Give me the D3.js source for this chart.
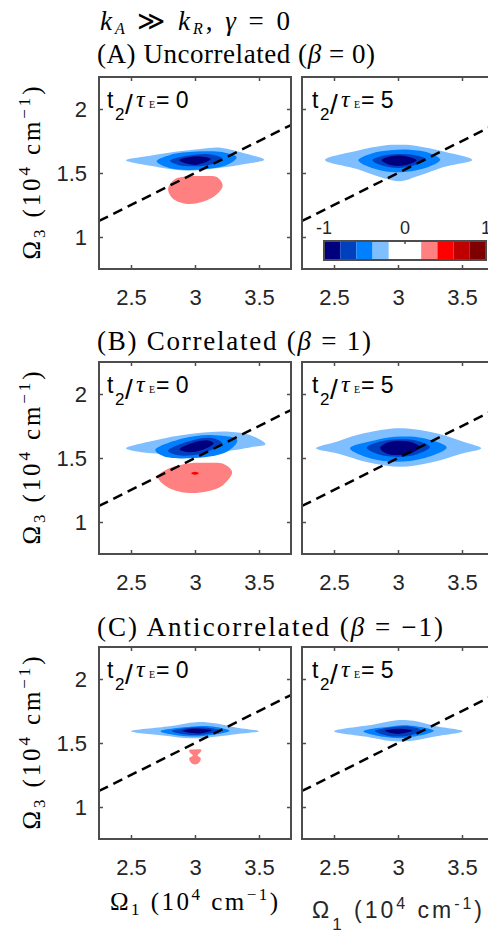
<!DOCTYPE html>
<html>
<head>
<meta charset="utf-8">
<script src="https://cdn.jsdelivr.net/npm/d3@7"></script>
<style>
	body { margin: 0; background: #fff; }
	svg { display: block; }
	text { white-space: pre; }
</style>
</head>
<body>
<div id="vis"></div>
<script>

// axes (10^4 cm^-1)
var omega1Domain = [2.25, 3.75];
var omega3Domain = [0.75, 2.25];
var omega1Ticks = [2.5, 3, 3.5];
var omega3Ticks = [1, 1.5, 2];

// contour levels, same steps as the colorbar
var levelEdges = [-0.8, -0.6, -0.4, -0.2, 0, 0.2, 0.4, 0.6, 0.8];
var levelColors = ["#00007f", "#0040bf", "#0080ff", "#80bfff", "#ffffff", "#ffffff", "#ff8080", "#ff0000", "#bf0000", "#7f0000"];
var cbarBands = [-1, -0.8, -0.6, -0.4, -0.2, 0, 0.2, 0.4, 0.6, 0.8];
var cbarTicks = [-1, 0, 1];

// dashed guide Omega3 = Omega1 / 2
var diagOmega1 = [2.25, 3.75];
var diagOmega3 = [1.125, 1.875];

var rowLabels = ["(A) Uncorrelated", "(B) Correlated", "(C) Anticorrelated"];
var rowBeta = ["0", "1", "\u22121"];
var delays = ["0", "5"];

// filled contour regions: band value v, outline points [Omega1, Omega3]
var uncorrT0 = [
	{v: -0.3, pts: [[2.46,1.60],[2.65,1.635],[2.86,1.667],[3.04,1.688],[3.20,1.698],[3.40,1.65],[3.54,1.604],[3.40,1.572],[3.17,1.537],[2.94,1.518],[2.80,1.531],[2.65,1.557],[2.52,1.58]]},
	{v: -0.5, pts: [[2.70,1.591],[2.805,1.641],[3.01,1.667],[3.22,1.662],[3.326,1.623],[3.25,1.563],[3.01,1.526],[2.805,1.537]]},
	{v: -0.7, pts: [[2.805,1.596],[2.99,1.643],[3.14,1.643],[3.21,1.615],[3.14,1.570],[2.99,1.552],[2.87,1.563]]},
	{v: -0.9, pts: [[2.877,1.599],[3.0,1.63],[3.123,1.609],[3.0,1.563]]},
	{v: 0.3, pts: [[2.84,1.45],[2.96,1.474],[3.07,1.476],[3.17,1.468],[3.216,1.40],[3.14,1.31],[2.96,1.258],[2.83,1.297],[2.79,1.375]]}
];
var uncorrT5 = [
	{v: -0.3, pts: [[2.43,1.602],[2.68,1.674],[2.89,1.715],[3.0,1.72],[3.12,1.715],[3.38,1.662],[3.58,1.602],[3.38,1.552],[3.15,1.474],[3.02,1.435],[2.89,1.459],[2.68,1.531]]},
	{v: -0.5, pts: [[2.69,1.60],[2.80,1.655],[2.94,1.678],[3.09,1.682],[3.25,1.655],[3.33,1.604],[3.2,1.535],[2.99,1.505],[2.81,1.535]]},
	{v: -0.7, pts: [[2.80,1.60],[2.88,1.635],[3.0,1.648],[3.13,1.64],[3.22,1.605],[3.13,1.56],[3.0,1.54],[2.87,1.56]]},
	{v: -0.9, pts: [[2.873,1.60],[2.95,1.632],[3.05,1.633],[3.146,1.60],[3.05,1.56],[2.95,1.56]]}
];
var corrT0 = [
	{v: -0.3, pts: [[2.46,1.576],[2.70,1.641],[2.96,1.688],[3.27,1.706],[3.43,1.68],[3.55,1.607],[3.43,1.583],[3.27,1.557],[3.04,1.531],[2.80,1.531],[2.62,1.541],[2.49,1.562]]},
	{v: -0.5, pts: [[2.69,1.562],[2.91,1.654],[3.12,1.68],[3.33,1.641],[3.25,1.549],[2.96,1.498],[2.75,1.516]]},
	{v: -0.7, pts: [[2.79,1.557],[2.99,1.641],[3.14,1.654],[3.21,1.615],[3.04,1.531],[2.86,1.523]]},
	{v: -0.9, pts: [[2.88,1.568],[3.0,1.625],[3.1,1.638],[3.145,1.615],[3.05,1.56],[2.95,1.545]]},
	{v: 0.3, pts: [[2.80,1.419],[2.96,1.459],[3.09,1.462],[3.22,1.455],[3.29,1.39],[3.22,1.29],[3.10,1.24],[2.93,1.229],[2.78,1.276],[2.71,1.354]]},
	{v: 0.5, pts: [[2.97,1.38],[3.0,1.392],[3.03,1.38],[3.0,1.368]]}
];
var corrT5 = [
	{v: -0.3, pts: [[2.36,1.576],[2.52,1.627],[2.68,1.68],[2.94,1.729],[3.09,1.729],[3.30,1.693],[3.51,1.627],[3.65,1.576],[3.51,1.537],[3.25,1.463],[3.02,1.432],[2.78,1.463],[2.52,1.537]]},
	{v: -0.5, pts: [[2.625,1.576],[2.83,1.641],[3.02,1.667],[3.20,1.654],[3.38,1.583],[3.20,1.498],[2.99,1.471],[2.78,1.498]]},
	{v: -0.7, pts: [[2.755,1.58],[2.87,1.63],[3.0,1.646],[3.15,1.635],[3.25,1.585],[3.15,1.53],[3.0,1.51],[2.86,1.525]]},
	{v: -0.9, pts: [[2.86,1.58],[2.93,1.625],[3.02,1.635],[3.12,1.62],[3.17,1.585],[3.1,1.535],[3.0,1.523],[2.9,1.54]]}
];
var antiT0 = [
	{v: -0.3, pts: [[2.50,1.592],[2.80,1.631],[3.01,1.663],[3.17,1.652],[3.33,1.619],[3.50,1.592],[3.30,1.566],[3.09,1.541],[2.96,1.537],[2.75,1.559]]},
	{v: -0.5, pts: [[2.73,1.592],[2.96,1.627],[3.12,1.631],[3.27,1.595],[3.07,1.555],[2.88,1.557]]},
	{v: -0.7, pts: [[2.82,1.594],[2.98,1.621],[3.10,1.62],[3.195,1.598],[3.07,1.566],[2.93,1.566]]},
	{v: -0.9, pts: [[2.90,1.595],[3.0,1.613],[3.13,1.598],[3.02,1.574]]},
	{v: 0.3, pts: [[2.955,1.445],[3.0,1.45],[3.05,1.445],[3.04,1.425],[3.02,1.402],[3.045,1.38],[3.03,1.345],[3.0,1.332],[2.97,1.345],[2.955,1.38],[2.983,1.402],[2.96,1.425]]}
];
var antiT5 = [
	{v: -0.3, pts: [[2.50,1.592],[2.81,1.645],[2.99,1.678],[3.12,1.673],[3.30,1.631],[3.505,1.592],[3.30,1.553],[3.09,1.516],[2.94,1.516],[2.755,1.548]]},
	{v: -0.5, pts: [[2.73,1.592],[2.96,1.631],[3.09,1.637],[3.28,1.595],[3.07,1.541],[2.89,1.548]]},
	{v: -0.7, pts: [[2.82,1.594],[2.97,1.625],[3.10,1.627],[3.185,1.598],[3.07,1.555],[2.92,1.557]]},
	{v: -0.9, pts: [[2.90,1.596],[3.0,1.611],[3.11,1.598],[3.0,1.571]]}
];

var spectra = [[uncorrT0, uncorrT5], [corrT0, corrT5], [antiT0, antiT5]];

function drawFigure() {

	var width = 488, height = 930;
	var plotSize = 192;
	var colLeft = [99, 302];
	var rowTop = [77, 362, 647];

	var sansFont = "'Liberation Sans', Arial, Helvetica, sans-serif";
	var serifFont = "'Liberation Serif', 'Times New Roman', 'DejaVu Serif', serif";
	var axisColor = "#4d4d4d";
	var textColor = "#262626";

	var svg = d3.select("#vis").append("svg")
		.attr("width", width)
		.attr("height", height);

	svg.append("rect")
		.attr("width", width)
		.attr("height", height)
		.attr("fill", "#fff");

	var xScale = d3.scaleLinear().domain(omega1Domain).range([0, plotSize]);
	var yScale = d3.scaleLinear().domain(omega3Domain).range([plotSize, 0]);
	var colorScale = d3.scaleThreshold().domain(levelEdges).range(levelColors);

	var contourLine = d3.line()
		.x(function(d) { return xScale(d[0]); })
		.y(function(d) { return yScale(d[1]); })
		.curve(d3.curveCatmullRomClosed.alpha(0.5));

	var guideLine = d3.line()
		.x(function(d) { return xScale(d[0]); })
		.y(function(d) { return yScale(d[1]); });

	svg.append("defs").append("clipPath")
		.attr("id", "plotClip")
		.append("rect")
		.attr("width", plotSize)
		.attr("height", plotSize);

	function richText(parent, x, y, size, family, parts) {
		var t = parent.append("text")
			.attr("x", x)
			.attr("y", y)
			.attr("font-size", size)
			.attr("font-family", family)
			.attr("fill", "#000");
		parts.forEach(function(p) {
			t.append("tspan")
				.attr("font-size", p.fs || null)
				.attr("font-style", p.it ? "italic" : null)
				.attr("dy", p.dy || null)
				.text(p.t);
		});
		return t;
	}

	function styleAxis(a, showText) {
		a.select(".domain").remove();
		a.selectAll(".tick line")
			.attr("stroke", axisColor)
			.attr("stroke-width", 1.5);
		a.selectAll(".tick text")
			.attr("fill", textColor)
			.attr("font-size", 22)
			.attr("font-family", sansFont)
			.style("display", showText ? null : "none");
	}

	// header
	richText(svg, 100, 30, 27, serifFont, [
		{t: "k", it: true}, {t: "A", it: true, fs: 16, dy: 4}, {t: " \u226B ", dy: -4},
		{t: "k", it: true}, {t: "R", it: true, fs: 16, dy: 4}, {t: ", ", dy: -4},
		{t: "\u03B3", it: true}, {t: " = 0"}
	]).attr("textLength", 190).attr("lengthAdjust", "spacing");

	var titleY = [63, 350, 636];
	var titleLen = [278, 274, 346];

	spectra.forEach(function(row, r) {

		richText(svg, 97, titleY[r], 27, serifFont, [
			{t: rowLabels[r] + " ("}, {t: "\u03B2", it: true}, {t: " = " + rowBeta[r] + ")"}
		]).attr("textLength", titleLen[r]).attr("lengthAdjust", "spacing");

		// y label
		richText(svg, 0, 0, 25, serifFont, [
			{t: "\u03A9"}, {t: "3", fs: 17, dy: 5}, {t: " (10", dy: -5},
			{t: "4", fs: 17, dy: -10}, {t: " cm", dy: 10}, {t: "\u22121", fs: 17, dy: -10}, {t: ")", dy: 10}
		])
			.attr("text-anchor", "middle")
			.attr("textLength", 173)
			.attr("lengthAdjust", "spacing")
			.attr("transform", "translate(40," + (rowTop[r] + plotSize / 2) + ") rotate(-90)");

		row.forEach(function(regions, c) {

			var g = svg.append("g")
				.attr("transform", "translate(" + colLeft[c] + "," + rowTop[r] + ")");

			var area = g.append("g").attr("clip-path", "url(#plotClip)");

			area.selectAll("path.level")
				.data(regions)
				.enter()
				.append("path")
				.attr("class", "level")
				.attr("d", function(d) { return contourLine(d.pts); })
				.attr("fill", function(d) { return colorScale(d.v); });

			area.append("path")
				.datum(d3.zip(diagOmega1, diagOmega3))
				.attr("d", guideLine)
				.attr("fill", "none")
				.attr("stroke", "#000")
				.attr("stroke-width", 2.5)
				.attr("stroke-dasharray", "10,6");

			// axes, ticks pointing inside
			var bottom = g.append("g")
				.attr("transform", "translate(0," + plotSize + ")")
				.call(d3.axisBottom(xScale).tickValues(omega1Ticks).tickSize(-4).tickSizeOuter(0).tickPadding(20).tickFormat(d3.format("")));
			styleAxis(bottom, true);

			var top = g.append("g")
				.call(d3.axisTop(xScale).tickValues(omega1Ticks).tickSize(-4).tickSizeOuter(0));
			styleAxis(top, false);

			var left = g.append("g")
				.call(d3.axisLeft(yScale).tickValues(omega3Ticks).tickSize(-4).tickSizeOuter(0).tickPadding(12).tickFormat(d3.format("")));
			styleAxis(left, c == 0);

			var right = g.append("g")
				.attr("transform", "translate(" + plotSize + ",0)")
				.call(d3.axisRight(yScale).tickValues(omega3Ticks).tickSize(-4).tickSizeOuter(0));
			styleAxis(right, false);

			g.append("rect")
				.attr("width", plotSize)
				.attr("height", plotSize)
				.attr("fill", "none")
				.attr("stroke", axisColor)
				.attr("stroke-width", 2);

			// t2/tauE annotation
			var x0 = c == 0 ? 8 : 10;
			var ann = g.append("text")
				.attr("font-family", sansFont)
				.attr("font-size", 23)
				.attr("fill", "#000");
			ann.append("tspan").attr("x", x0).attr("y", 31).text("t");
			ann.append("tspan").attr("x", x0 + 8).attr("y", 43).attr("font-size", 17).text("2");
			ann.append("tspan").attr("x", x0 + 18).attr("y", 37).attr("font-size", 28).text("/");
			ann.append("tspan").attr("x", x0 + 29).attr("y", 30).attr("font-family", serifFont).attr("font-style", "italic").attr("font-size", 24).text("\u03C4");
			ann.append("tspan").attr("x", x0 + 42).attr("y", 31).attr("font-family", serifFont).attr("font-size", 10).text("E");
			ann.append("tspan").attr("x", x0 + 49).attr("y", 31).text("= " + delays[c]);
		});
	});

	// colorbar inside panel A right
	var cbarScale = d3.scaleLinear().domain([-1, 1]).range([324, 486]);
	var cbarY = 241, cbarH = 19;
	var cbar = svg.append("g");

	cbar.selectAll("rect.band")
		.data(cbarBands)
		.enter()
		.append("rect")
		.attr("class", "band")
		.attr("x", function(d) { return cbarScale(d); })
		.attr("y", cbarY)
		.attr("width", function(d) { return cbarScale(d + 0.2) - cbarScale(d); })
		.attr("height", cbarH)
		.attr("fill", function(d) { return colorScale(d + 0.1); });

	cbar.append("rect")
		.attr("x", cbarScale(-1))
		.attr("y", cbarY)
		.attr("width", cbarScale(1) - cbarScale(-1))
		.attr("height", cbarH)
		.attr("fill", "none")
		.attr("stroke", axisColor)
		.attr("stroke-width", 2);

	cbar.selectAll("line.ctick")
		.data(cbarTicks)
		.enter()
		.append("line")
		.attr("class", "ctick")
		.attr("x1", function(d) { return cbarScale(d); })
		.attr("x2", function(d) { return cbarScale(d); })
		.attr("y1", cbarY)
		.attr("y2", cbarY + 3)
		.attr("stroke", axisColor)
		.attr("stroke-width", 1.5);

	cbar.selectAll("text.clabel")
		.data(cbarTicks)
		.enter()
		.append("text")
		.attr("class", "clabel")
		.attr("x", function(d) { return cbarScale(d); })
		.attr("y", 234)
		.attr("text-anchor", "middle")
		.attr("font-family", sansFont)
		.attr("font-size", 18)
		.attr("fill", textColor)
		.text(function(d) { return d < 0 ? "-" + Math.abs(d) : d; });

	// x labels: serif (left), sans (right)
	richText(svg, 110, 910, 25, serifFont, [
		{t: "\u03A9"}, {t: "1", fs: 17, dy: 5}, {t: " (10", dy: -5},
		{t: "4", fs: 17, dy: -10}, {t: " cm", dy: 10}, {t: "\u22121", fs: 17, dy: -10}, {t: ")", dy: 10}
	]).attr("textLength", 168).attr("lengthAdjust", "spacing");

	richText(svg, 312, 918, 23, sansFont, [
		{t: "\u03A9"}, {t: "1", fs: 17, dy: 12}, {t: " (10", dy: -12},
		{t: "4", fs: 16, dy: -9}, {t: " cm", dy: 9}, {t: "-1", fs: 16, dy: -9}, {t: ")", dy: 9}
	]).attr("textLength", 170).attr("lengthAdjust", "spacing").attr("fill", textColor);
}

drawFigure();
</script>
</body>
</html>
